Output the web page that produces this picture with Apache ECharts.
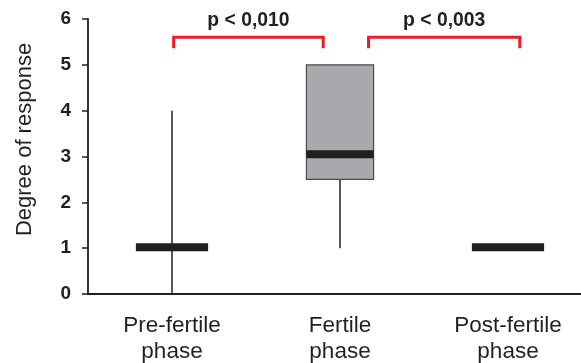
<!DOCTYPE html>
<html>
<head>
<meta charset="utf-8">
<script src="https://cdn.jsdelivr.net/npm/echarts@6/dist/echarts.min.js"></script>
<style>
  html, body { margin: 0; padding: 0; background: #fff; }
  #chart { width: 581px; height: 363px; }
</style>
</head>
<body>
<div id="chart"></div>
<script>
// Phases along the x axis
const categories = ['Pre-fertile\nphase', 'Fertile\nphase', 'Post-fertile\nphase'];

// Box summaries per phase
const minValues    = [0, 1, 1];
const q1Values     = [1, 2.5, 1];
const medianValues = [1.02, 3.05, 1.02];
const q3Values     = [1, 5, 1];
const maxValues    = [4, 5, 1];

// Y axis ticks
const yTicks = [0, 1, 2, 3, 4, 5, 6];

// Significance brackets (x in category-band units, 0..3)
const bracketStart  = [0.51, 1.67];
const bracketEnd    = [1.40, 2.57];
const bracketLabels = ['p < 0,010', 'p < 0,003'];
const bracketLevel  = 5.6;
const bracketLeg    = 5.36;
const labelLevel    = 5.97;

const INK = '#231f20';
const FONT = '"Liberation Sans", Arial, sans-serif';

const boxData = categories.map((c, i) => [i, minValues[i], q1Values[i], medianValues[i], q3Values[i], maxValues[i]]);
const bracketData = bracketStart.map((s, i) => [s, bracketEnd[i], i]);

function renderBox(params, api) {
  const idx = api.value(0);
  const band = api.size([1, 0])[0];
  const cx = api.coord([idx, 0])[0];
  const yMin = api.coord([idx, api.value(1)])[1];
  const yQ1 = api.coord([idx, api.value(2)])[1];
  const yMed = api.coord([idx, api.value(3)])[1];
  const yQ3 = api.coord([idx, api.value(4)])[1];
  const yMax = api.coord([idx, api.value(5)])[1];
  const boxW = band * 0.4;
  const medW = band * 0.43;
  const hasBox = api.value(4) > api.value(2);
  const children = [];
  const lineStyle = { stroke: INK, lineWidth: 1.5 };
  if (hasBox) {
    // whiskers outside the box
    if (yMin > yQ1) children.push({ type: 'line', shape: { x1: cx, y1: yQ1, x2: cx, y2: yMin }, style: lineStyle });
    if (yMax < yQ3) children.push({ type: 'line', shape: { x1: cx, y1: yMax, x2: cx, y2: yQ3 }, style: lineStyle });
    children.push({
      type: 'rect',
      shape: { x: cx - boxW / 2, y: yQ3, width: boxW, height: yQ1 - yQ3 },
      style: { fill: '#a7a9ac', stroke: '#4d4d4f', lineWidth: 1.2 }
    });
  } else if (yMin - yMax > 0.5) {
    children.push({ type: 'line', shape: { x1: cx, y1: yMax, x2: cx, y2: yMin }, style: lineStyle });
  }
  const w = hasBox ? boxW : medW;
  children.push({
    type: 'rect',
    shape: { x: cx - w / 2, y: yMed - 4, width: w, height: 8 },
    style: { fill: INK }
  });
  return { type: 'group', children };
}

function renderBracket(params, api) {
  const x1 = api.coord([api.value(0), 0])[0];
  const x2 = api.coord([api.value(1), 0])[0];
  const yTop = api.coord([0, bracketLevel])[1];
  const yLeg = api.coord([0, bracketLeg])[1];
  const yText = api.coord([0, labelLevel])[1];
  const i = api.value(2);
  return {
    type: 'group',
    children: [
      {
        type: 'polyline',
        shape: { points: [[x1, yLeg], [x1, yTop], [x2, yTop], [x2, yLeg]] },
        style: { stroke: '#ed1c24', lineWidth: 3, fill: null }
      },
      {
        type: 'text',
        x: (x1 + x2) / 2, y: yText, scaleX: 0.92,
        style: {
          text: bracketLabels[i], x: 0, y: 0,
          align: 'center', verticalAlign: 'middle',
          font: 'bold 21px ' + FONT, fill: INK
        }
      }
    ]
  };
}

const chart = echarts.init(document.getElementById('chart'), null, { renderer: 'canvas' });
chart.setOption({
  animation: false,
  grid: { left: 88, top: 19, bottom: 69, right: -11, outerBoundsMode: 'none' },
  xAxis: [
    {
      type: 'category',
      data: categories,
      boundaryGap: true,
      axisLine: { lineStyle: { color: INK, width: 1.8 } },
      axisTick: { length: 5, lineStyle: { color: INK, width: 1.5 } },
      axisLabel: {
        color: INK, fontSize: 22.5, lineHeight: 26, margin: 19,
        fontFamily: FONT, interval: 0
      },
      splitLine: { show: false }
    },
    { type: 'value', min: 0, max: 3, show: false }
  ],
  yAxis: {
    type: 'value',
    min: yTicks[0], max: yTicks[yTicks.length - 1], interval: 1,
    name: 'Degree of response',
    nameLocation: 'middle', nameRotate: 90, nameGap: 52,
    nameTextStyle: {
      color: INK, fontSize: 22, fontFamily: FONT,
      padding: [0, 0, 0, 34]
    },
    axisLine: { show: true, lineStyle: { color: INK, width: 1.8 } },
    axisTick: { show: true, length: 6, lineStyle: { color: INK, width: 1.5 } },
    axisLabel: {
      color: INK, fontSize: 19, fontWeight: 'bold', margin: 17,
      fontFamily: FONT
    },
    splitLine: { show: false }
  },
  series: [
    {
      type: 'custom', xAxisIndex: 0, renderItem: renderBox, data: boxData,
      encode: { x: 0, y: [1, 2, 3, 4, 5] }, clip: false
    },
    {
      type: 'custom', xAxisIndex: 1, renderItem: renderBracket, data: bracketData,
      encode: { x: [0, 1] }, clip: false
    }
  ]
});
</script>
</body>
</html>
